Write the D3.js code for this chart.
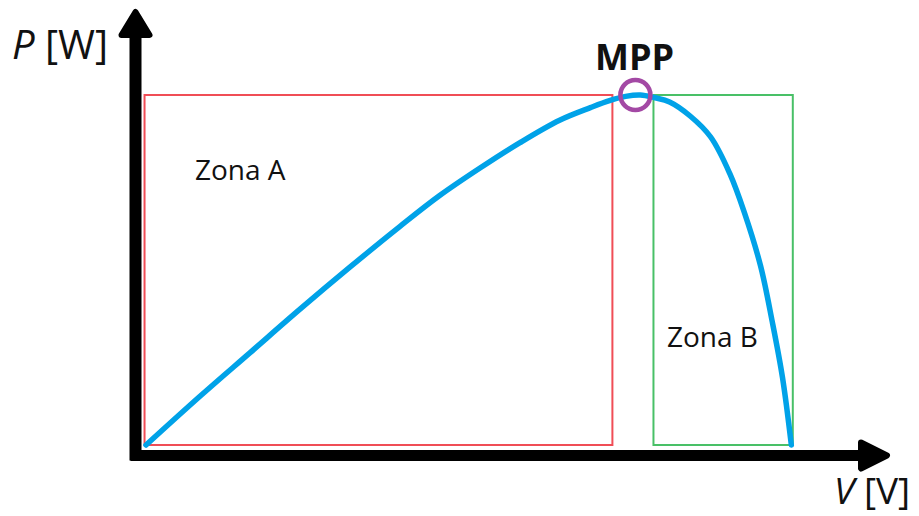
<!DOCTYPE html>
<html><head><meta charset="utf-8">
<script src="https://cdn.jsdelivr.net/npm/d3@7"></script>
<style>
html,body{margin:0;padding:0;background:#fff;}
svg{display:block;}
text{font-family:"Open Sans","Noto Sans",sans-serif;fill:#111;}
</style></head>
<body>
<svg id="chart" width="919" height="516"></svg>
<script>
// ---- data ----
const voltage = [0, 3.7, 7.1, 10.5, 13.9, 17.3, 20.0, 22.8, 25.5, 28.2, 30.3, 31.6, 32.7, 33.7, 34.7, 35.7, 37.1, 38.5, 39.8, 40.8, 41.9, 42.7, 43.4, 44.0];
const power   = [0, 35, 66, 97, 127, 156, 178, 198, 216, 232, 241, 246, 249, 250, 248, 245, 235, 220, 194, 166, 128, 88, 48, 0];
const mppV = 33.3, mppP = 250;
const zoneNames = ["Zona A", "Zona B"];
const zoneStartV = [-0.1, 34.6];
const zoneEndV = [31.8, 44.1];
const zoneTopP = [250, 250];
const zoneColors = ["#ee3a44", "#35b957"];
const axisLabels = {x: ["V", " [V]"], y: ["P", " [W]"]};

// ---- scales ----
const x = d3.scaleLinear().domain([0, 45]).range([146, 806]);
const y = d3.scaleLinear().domain([0, 250]).range([445, 95]);

const svg = d3.select("#chart");

// zones
const zones = zoneNames.map((n, i) => ({name: n, v0: zoneStartV[i], v1: zoneEndV[i], p: zoneTopP[i], c: zoneColors[i]}));
svg.selectAll("rect.zone").data(zones).join("rect")
  .attr("class", "zone")
  .attr("x", d => x(d.v0)).attr("y", d => y(d.p))
  .attr("width", d => x(d.v1) - x(d.v0)).attr("height", d => y(0) - y(d.p))
  .attr("fill", "none").attr("stroke", d => d.c).attr("stroke-width", 2).attr("opacity", 0.9);

// zone labels
svg.append("text").attr("x", 195).attr("y", 180).attr("font-size", 28).text(zoneNames[0]);
svg.append("text").attr("x", 667).attr("y", 347).attr("font-size", 28).text(zoneNames[1]);

// axes as arrows
const x0 = x.range()[0] - 10.5, y0 = y.range()[0] + 10.5;
const axisG = svg.append("g");
axisG.append("line").attr("x1", x0 - 5).attr("y1", y0).attr("x2", 880).attr("y2", y0)
  .attr("stroke", "#000").attr("stroke-width", 11);
axisG.append("line").attr("x1", x0).attr("y1", y0 + 5).attr("x2", x0).attr("y2", 22)
  .attr("stroke", "#000").attr("stroke-width", 12);
axisG.append("path")
  .attr("d", `M861,${y0-13} L887,${y0} L861,${y0+13} Z`)
  .attr("fill", "#000").attr("stroke", "#000").attr("stroke-width", 6).attr("stroke-linejoin", "round");
axisG.append("path")
  .attr("d", `M${x0-14},35 L${x0},12 L${x0+14},35 Z`)
  .attr("fill", "#000").attr("stroke", "#000").attr("stroke-width", 6).attr("stroke-linejoin", "round");

// curve
const pts = voltage.map((v, i) => [v, power[i]]);
const line = d3.line().x(d => x(d[0])).y(d => y(d[1])).curve(d3.curveCatmullRom.alpha(0.5));
svg.append("path").datum(pts).attr("d", line)
  .attr("fill", "none").attr("stroke", "#00a2e8").attr("stroke-width", 5.5).attr("stroke-linecap", "round");

// MPP
svg.append("circle").attr("cx", x(mppV) + 1).attr("cy", y(mppP)).attr("r", 15)
  .attr("fill", "none").attr("stroke", "#a349a4").attr("stroke-width", 4.5);
svg.append("text").attr("x", 595).attr("y", 70).attr("font-size", 36).attr("font-weight", "bold").text("MPP");

// axis labels
const yl = svg.append("text").attr("x", 12).attr("y", 59).attr("font-size", 40);
yl.append("tspan").attr("font-style", "italic").text(axisLabels.y[0]);
yl.append("tspan").text(axisLabels.y[1]);
const xl = svg.append("text").attr("x", 834).attr("y", 504).attr("font-size", 37);
xl.append("tspan").attr("font-style", "italic").text(axisLabels.x[0]);
xl.append("tspan").text(axisLabels.x[1]);
</script>
</body></html>
